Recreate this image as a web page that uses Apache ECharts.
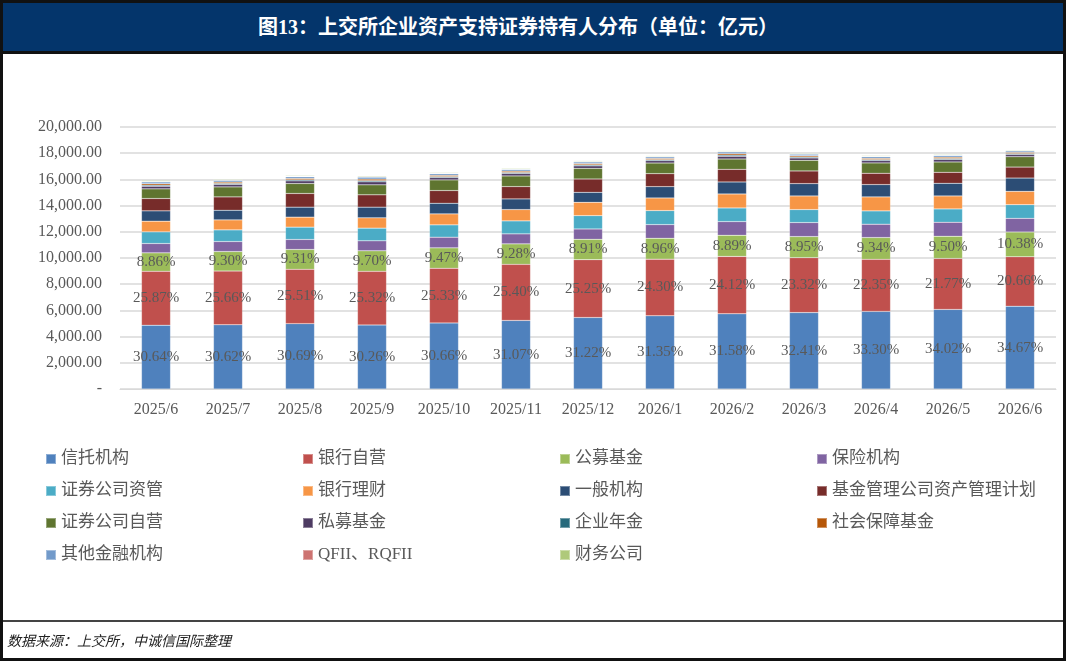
<!DOCTYPE html>
<html>
<head>
<meta charset="utf-8">
<script src="https://cdn.jsdelivr.net/npm/echarts@6/dist/echarts.min.js"></script>
<style>
  body { margin: 0; background: #fff; }
  #chart { position: absolute; left: 0; top: 0; width: 1068px; height: 663px; }
  .frame {
    position: absolute; left: 0; top: 0; width: 1060px; height: 655px;
    border: 3px solid #111; pointer-events: none;
  }
  .title-bar {
    position: absolute; left: 3px; top: 3px; width: 1060px; height: 48px;
    background: #04356b; border-bottom: 3px solid #111;
    color: #fff; font: bold 20px 'Liberation Serif', 'Noto Sans CJK SC', serif;
    line-height: 48px; text-align: center; text-indent: -30px;
  }
  .foot-line {
    position: absolute; left: 3px; top: 620px; width: 1060px; height: 0;
    border-top: 2px solid #444;
  }
  .foot {
    position: absolute; left: 7px; top: 630px;
    font: italic 14px 'Liberation Serif', 'Noto Sans CJK SC', serif; color: #222;
  }
</style>
</head>
<body>
<div id="chart"></div>
<div class="frame"></div>
<div class="title-bar">图13：上交所企业资产支持证券持有人分布（单位：亿元）</div>
<div class="foot-line"></div>
<div class="foot">数据来源：上交所，中诚信国际整理</div>
<script>
// 月份
const months = ['2025/6', '2025/7', '2025/8', '2025/9', '2025/10', '2025/11', '2025/12',
  '2026/1', '2026/2', '2026/3', '2026/4', '2026/5', '2026/6'];

// 各类持有人规模（亿元）
const trust      = [4872, 4899, 4990, 4890, 5047, 5235, 5457, 5583, 5738, 5831, 5924, 6076, 6324];
const bankSelf   = [4113, 4106, 4148, 4092, 4169, 4280, 4414, 4328, 4383, 4195, 3976, 3888, 3768];
const publicFund = [1409, 1488, 1514, 1568, 1559, 1564, 1557, 1596, 1615, 1610, 1662, 1697, 1893];
const insurance  = [712, 763, 763, 763, 813, 763, 788, 1042, 1042, 1068, 1017, 1068, 1042];
const secAM      = [890, 890, 941, 966, 941, 991, 1017, 1068, 1042, 991, 1017, 1017, 1042];
const bankWM     = [814, 763, 763, 789, 839, 864, 1017, 966, 1068, 1042, 1068, 991, 1017];
const general    = [789, 738, 763, 814, 813, 813, 763, 864, 915, 941, 941, 966, 1017];
const fundAM     = [941, 1017, 1043, 941, 966, 941, 1017, 991, 966, 966, 864, 839, 839];
const secSelf    = [738, 763, 763, 763, 813, 813, 813, 813, 788, 813, 788, 788, 788];
const privFund   = [200, 190, 200, 230, 180, 190, 190, 180, 210, 180, 180, 190, 170];
const annuity    = [80, 75, 80, 90, 75, 75, 75, 75, 85, 75, 75, 75, 70];
const socialSec  = [110, 100, 105, 115, 95, 100, 100, 95, 110, 95, 95, 100, 90];
const otherFin   = [140, 125, 130, 150, 120, 125, 125, 120, 135, 120, 120, 125, 115];
const qfii       = [40, 40, 40, 42, 35, 38, 38, 35, 40, 35, 35, 38, 35];
const finCo      = [66, 55, 55, 60, 55, 57, 57, 55, 56, 55, 55, 57, 54];

// 图中标注的占比
const trustPct  = ['30.64%', '30.62%', '30.69%', '30.26%', '30.66%', '31.07%', '31.22%',
  '31.35%', '31.58%', '32.41%', '33.30%', '34.02%', '34.67%'];
const bankPct   = ['25.87%', '25.66%', '25.51%', '25.32%', '25.33%', '25.40%', '25.25%',
  '24.30%', '24.12%', '23.32%', '22.35%', '21.77%', '20.66%'];
const publicPct = ['8.86%', '9.30%', '9.31%', '9.70%', '9.47%', '9.28%', '8.91%',
  '8.96%', '8.89%', '8.95%', '9.34%', '9.50%', '10.38%'];

const seriesDefs = [
  ['信托机构', trust, '#4F81BD', trustPct],
  ['银行自营', bankSelf, '#C0504D', bankPct],
  ['公募基金', publicFund, '#9BBB59', publicPct],
  ['保险机构', insurance, '#8064A2'],
  ['证券公司资管', secAM, '#4BACC6'],
  ['银行理财', bankWM, '#F79646'],
  ['一般机构', general, '#2C4D75'],
  ['基金管理公司资产管理计划', fundAM, '#772C2A'],
  ['证券公司自营', secSelf, '#5F7530'],
  ['私募基金', privFund, '#4D3B62'],
  ['企业年金', annuity, '#276A7C'],
  ['社会保障基金', socialSec, '#B65708'],
  ['其他金融机构', otherFin, '#729ACA'],
  ['QFII、RQFII', qfii, '#CD7371'],
  ['财务公司', finCo, '#AFC97A']
];

const FONT = "'Liberation Serif', 'Noto Sans CJK SC', serif";
const GRAY = '#595959';

const chart = echarts.init(document.getElementById('chart'));

const series = seriesDefs.map(([name, data, color, pct]) => ({
  name,
  type: 'bar',
  stack: 'total',
  barWidth: 29,
  data,
  itemStyle: { color, borderColor: 'rgba(255,255,255,0.35)', borderWidth: 0.5 },
  label: pct ? {
    show: true,
    position: 'inside',
    formatter: p => pct[p.dataIndex],
    color: GRAY,
    fontFamily: FONT,
    fontSize: 15
  } : { show: false }
}));

// 图例按四列排布
const cols = [
  ['信托机构', '证券公司资管', '证券公司自营', '其他金融机构'],
  ['银行自营', '银行理财', '私募基金', 'QFII、RQFII'],
  ['公募基金', '一般机构', '企业年金', '财务公司'],
  ['保险机构', '基金管理公司资产管理计划', '社会保障基金']
];
const colLeft = [40, 297, 554, 811];
const legends = cols.map((names, i) => ({
  data: names,
  orient: 'vertical',
  left: colLeft[i],
  top: 444,
  icon: 'rect',
  itemWidth: 10,
  itemHeight: 10,
  itemGap: 12,
  selectedMode: false,
  textStyle: { color: GRAY, fontFamily: FONT, fontSize: 17, lineHeight: 20 }
}));

chart.setOption({
  animation: false,
  grid: { left: 120, right: 12, top: 127, bottom: 274 },
  legend: legends,
  xAxis: {
    type: 'category',
    data: months,
    axisLine: { lineStyle: { color: '#d9d9d9' } },
    axisTick: { show: false },
    axisLabel: { color: GRAY, fontFamily: FONT, fontSize: 16, margin: 13 }
  },
  yAxis: {
    type: 'value',
    min: 0,
    max: 20000,
    interval: 2000,
    axisLine: { show: false },
    axisTick: { show: false },
    splitLine: { lineStyle: { color: '#d9d9d9', width: 1.5 } },
    axisLabel: {
      color: GRAY, fontFamily: FONT, fontSize: 16, margin: 18,
      formatter: v => v === 0 ? '-' : v.toLocaleString('en-US', { minimumFractionDigits: 2 })
    }
  },
  series
});
</script>
</body>
</html>
